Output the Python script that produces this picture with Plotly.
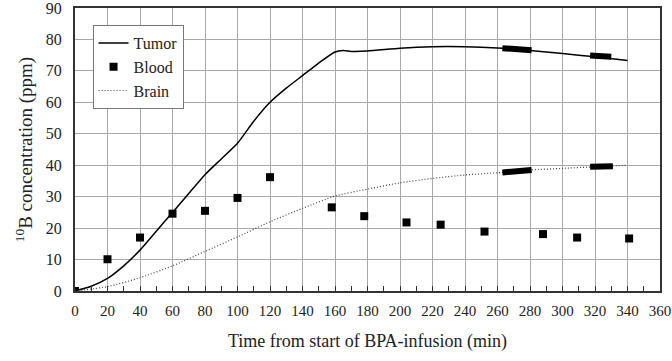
import plotly.graph_objects as go

# Tumor (solid line)
tumor_t = [0, 10, 20, 30, 40, 50, 60, 70, 80, 90, 100, 110, 120, 130, 140, 150, 160, 165, 170, 180, 200, 220, 240, 260, 280, 300, 320, 340]
tumor_c = [0, 1.5, 4, 8, 13, 19, 25, 31, 37, 42, 47, 54, 60, 64.5, 68.5, 72.5, 76, 76.5, 76.2, 76.3, 77.2, 77.7, 77.7, 77.3, 76.5, 75.5, 74.5, 73.3]

# Blood (square markers)
blood_t = [0, 20, 40, 60, 80, 100, 120, 158, 178, 204, 225, 252, 288, 309, 341]
blood_c = [0, 10.1, 17.0, 24.6, 25.5, 29.6, 36.2, 26.6, 23.8, 21.8, 21.1, 18.9, 18.1, 17.0, 16.7]

# Brain (dotted line)
brain_t = [0, 20, 40, 60, 80, 100, 120, 140, 160, 180, 200, 220, 240, 260, 280, 300, 320, 340]
brain_c = [0, 1.4, 4.2, 8.0, 12.6, 17.2, 22.0, 26.3, 30.2, 32.4, 34.4, 35.8, 36.9, 37.6, 38.5, 39.0, 39.5, 40.0]

# Highlighted (thick) segments
tumor_seg1_t = [263, 281]; tumor_seg1_c = [77.2, 76.6]
tumor_seg2_t = [317, 330]; tumor_seg2_c = [74.9, 74.5]
brain_seg1_t = [263, 281]; brain_seg1_c = [37.7, 38.5]
brain_seg2_t = [317, 331]; brain_seg2_c = [39.5, 39.7]

x_ticks = list(range(0, 361, 20))
y_ticks = list(range(0, 91, 10))

FONT = "Liberation Serif"

fig = go.Figure()
fig.add_trace(go.Scatter(x=tumor_t, y=tumor_c, mode="lines", name="Tumor",
                         line=dict(color="black", width=1.5, shape="spline", smoothing=0.6)))
fig.add_trace(go.Scatter(x=blood_t, y=blood_c, mode="markers", name="Blood",
                         marker=dict(symbol="square", size=8, color="black")))
fig.add_trace(go.Scatter(x=brain_t, y=brain_c, mode="lines", name="Brain",
                         line=dict(color="#444444", width=1.2, dash="1px,2px", shape="spline", smoothing=0.6)))
for xs, ys in [(tumor_seg1_t, tumor_seg1_c), (tumor_seg2_t, tumor_seg2_c),
               (brain_seg1_t, brain_seg1_c), (brain_seg2_t, brain_seg2_c)]:
    fig.add_trace(go.Scatter(x=xs, y=ys, mode="lines", showlegend=False,
                             line=dict(color="black", width=6)))

fig.update_layout(
    width=672, height=361,
    margin=dict(l=75, r=12, t=8, b=70),
    plot_bgcolor="white", paper_bgcolor="white",
    font=dict(family=FONT, color="#222222", size=16),
    legend=dict(x=0.03, y=0.94, xanchor="left", yanchor="top",
                bgcolor="white", bordercolor="#777777", borderwidth=1,
                font=dict(family=FONT, size=16), tracegroupgap=2),
    showlegend=True,
)
fig.update_xaxes(range=[0, 360], tickvals=x_ticks, ticktext=[str(v) for v in x_ticks],
                 showgrid=True, gridcolor="#a8a8a8", gridwidth=1,
                 showline=True, linecolor="#333333", linewidth=2, mirror=True,
                 ticks="inside", ticklen=5, tickcolor="#333333",
                 minor=dict(dtick=10, ticks="inside", ticklen=5, tickcolor="#333333", showgrid=False),
                 zeroline=False, ticklabeloverflow="allow", ticklabelstandoff=5, automargin=False,
                 title=dict(text="Time from start of BPA-infusion (min)", font=dict(size=18), standoff=16),
                 tickfont=dict(size=15))
fig.update_yaxes(range=[0, 90], tickvals=y_ticks, ticktext=[str(v) for v in y_ticks],
                 showgrid=True, gridcolor="#a8a8a8", gridwidth=1,
                 showline=True, linecolor="#333333", linewidth=2, mirror=True,
                 ticks="", zeroline=False, ticklabelstandoff=8, automargin=False,
                 ticklabeloverflow="allow",
                 title=dict(text="<sup>10</sup>B concentration (ppm)", font=dict(size=19), standoff=8),
                 tickfont=dict(size=16))

fig.write_html("out.html")
